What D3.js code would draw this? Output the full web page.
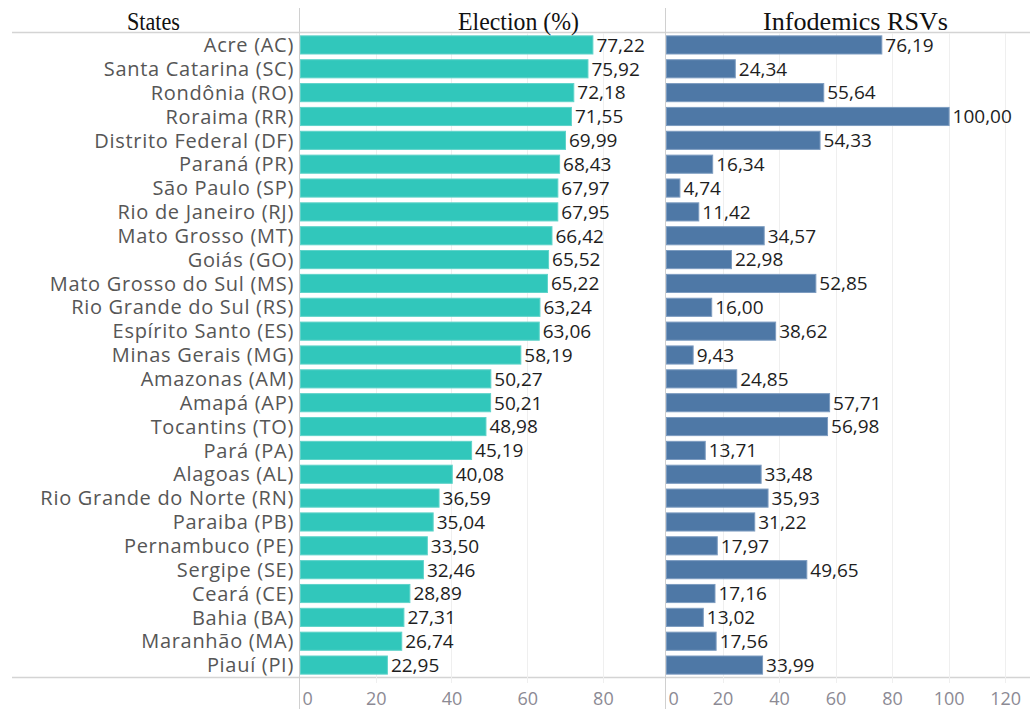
<!DOCTYPE html>
<html>
<head>
<meta charset="utf-8">
<script src="https://cdn.jsdelivr.net/npm/d3@7"></script>
<style>
  body { margin: 0; background: #fff; }
  svg { display: block; }
</style>
</head>
<body>
<div id="chart"></div>
<script>
'use strict';

var states = [
  'Acre (AC)', 'Santa Catarina (SC)', 'Rondônia (RO)', 'Roraima (RR)',
  'Distrito Federal (DF)', 'Paraná (PR)', 'São Paulo (SP)', 'Rio de Janeiro (RJ)',
  'Mato Grosso (MT)', 'Goiás (GO)', 'Mato Grosso do Sul (MS)', 'Rio Grande do Sul (RS)',
  'Espírito Santo (ES)', 'Minas Gerais (MG)', 'Amazonas (AM)', 'Amapá (AP)',
  'Tocantins (TO)', 'Pará (PA)', 'Alagoas (AL)', 'Rio Grande do Norte (RN)',
  'Paraiba (PB)', 'Pernambuco (PE)', 'Sergipe (SE)', 'Ceará (CE)',
  'Bahia (BA)', 'Maranhão (MA)', 'Piauí (PI)'
];

var election = [
  77.22, 75.92, 72.18, 71.55, 69.99, 68.43, 67.97, 67.95, 66.42, 65.52,
  65.22, 63.24, 63.06, 58.19, 50.27, 50.21, 48.98, 45.19, 40.08, 36.59,
  35.04, 33.50, 32.46, 28.89, 27.31, 26.74, 22.95
];

var rsvs = [
  76.19, 24.34, 55.64, 100.00, 54.33, 16.34, 4.74, 11.42, 34.57, 22.98,
  52.85, 16.00, 38.62, 9.43, 24.85, 57.71, 56.98, 13.71, 33.48, 35.93,
  31.22, 17.97, 49.65, 17.16, 13.02, 17.56, 33.99
];

var electionTicks = [0, 20, 40, 60, 80];
var rsvTicks = [0, 20, 40, 60, 80, 100, 120];

var headers = ['States', 'Election (%)', 'Infodemics RSVs'];

var width = 1035, height = 709;
var plotTop = 33, plotBottom = 677;

var svg = d3.select('#chart').append('svg')
  .attr('width', width)
  .attr('height', height);

var locale = d3.formatLocale({ decimal: ',', thousands: '.', grouping: [3], currency: ['', ''] });
var fmt = locale.format('.2f');

var yScale = d3.scaleBand()
  .domain(states)
  .range([plotTop, plotBottom])
  .paddingInner(0.24)
  .paddingOuter(0.12);

var xElection = d3.scaleLinear().domain([0, 96.4]).range([300, 665]);
var xRsv = d3.scaleLinear().domain([0, 128.8]).range([666, 1030]);

// header + axis rules
svg.append('line')
  .attr('x1', 12).attr('x2', 1030)
  .attr('y1', plotTop - 0.5).attr('y2', plotTop - 0.5)
  .style('stroke', '#d4d4d4').style('stroke-width', 1.5);

svg.append('line')
  .attr('x1', 12).attr('x2', 1030)
  .attr('y1', plotBottom + 0.5).attr('y2', plotBottom + 0.5)
  .style('stroke', '#d4d4d4').style('stroke-width', 1.5);

function drawPanel(scale, values, ticks, color, stroke) {
  var g = svg.append('g');

  // gridlines
  g.selectAll('.grid')
    .data(ticks.slice(1))
    .enter()
    .append('line')
    .attr('class', 'grid')
    .attr('x1', function(d) { return Math.round(scale(d)) + 0.5; })
    .attr('x2', function(d) { return Math.round(scale(d)) + 0.5; })
    .attr('y1', plotTop)
    .attr('y2', plotBottom + 6)
    .style('stroke', '#efefef');

  // panel edge
  g.append('line')
    .attr('x1', Math.round(scale(0)) - 0.5)
    .attr('x2', Math.round(scale(0)) - 0.5)
    .attr('y1', 8)
    .attr('y2', height)
    .style('stroke', '#d0d0d0');

  g.selectAll('.bar')
    .data(values)
    .enter()
    .append('rect')
    .attr('class', 'bar')
    .attr('x', scale(0) + 0.5)
    .attr('y', function(d, i) { return yScale(states[i]); })
    .attr('width', function(d) { return scale(d) - scale(0); })
    .attr('height', yScale.bandwidth())
    .style('fill', color)
    .style('stroke', stroke)
    .style('stroke-width', 1);

  g.selectAll('.val')
    .data(values)
    .enter()
    .append('text')
    .attr('class', 'val')
    .attr('x', function(d) { return scale(d) + 4; })
    .attr('y', function(d, i) { return yScale(states[i]) + yScale.bandwidth() / 2; })
    .attr('dy', '0.36em')
    .style('font-family', '"Open Sans", sans-serif')
    .style('font-size', '19px')
    .style('fill', '#1e1e1e')
    .text(function(d) { return fmt(d); });

  var axis = d3.axisBottom(scale)
    .tickValues(ticks)
    .tickSize(0)
    .tickPadding(15)
    .tickFormat(d3.format('d'));

  var ax = g.append('g')
    .attr('transform', 'translate(0,' + plotBottom + ')')
    .call(axis);
  ax.select('.domain').remove();
  ax.selectAll('text')
    .style('font-family', '"Open Sans", sans-serif')
    .style('font-size', '18px')
    .style('fill', '#8c8a94')
    .attr('text-anchor', function(d) { return d === 0 ? 'start' : 'middle'; })
    .attr('x', function(d) { return d === 0 ? 2 : 0; });
}

drawPanel(xElection, election, electionTicks, '#31c7bb', '#5fd3c9');
drawPanel(xRsv, rsvs, rsvTicks, '#4e78a6', '#7d9cc0');

// state labels
svg.append('g').selectAll('text')
  .data(states)
  .enter()
  .append('text')
  .attr('x', 294)
  .attr('y', function(d) { return yScale(d) + yScale.bandwidth() / 2; })
  .attr('dy', '0.36em')
  .attr('text-anchor', 'end')
  .style('font-family', '"Open Sans", sans-serif')
  .style('font-size', '20px')
  .style('letter-spacing', '0.7px')
  .style('fill', '#565656')
  .text(function(d) { return d; });

// column headers (narrow serif, squeezed to the reference widths)
var headerX = [127, 458, 763];
var headerW = [53, 121, 185];
svg.append('g').selectAll('text')
  .data(headers)
  .enter()
  .append('text')
  .attr('x', function(d, i) { return headerX[i]; })
  .attr('y', 30)
  .attr('textLength', function(d, i) { return headerW[i]; })
  .attr('lengthAdjust', 'spacingAndGlyphs')
  .style('font-family', '"Liberation Serif", "Times New Roman", serif')
  .style('font-size', '25px')
  .style('fill', '#111')
  .text(function(d) { return d; });
</script>
</body>
</html>
